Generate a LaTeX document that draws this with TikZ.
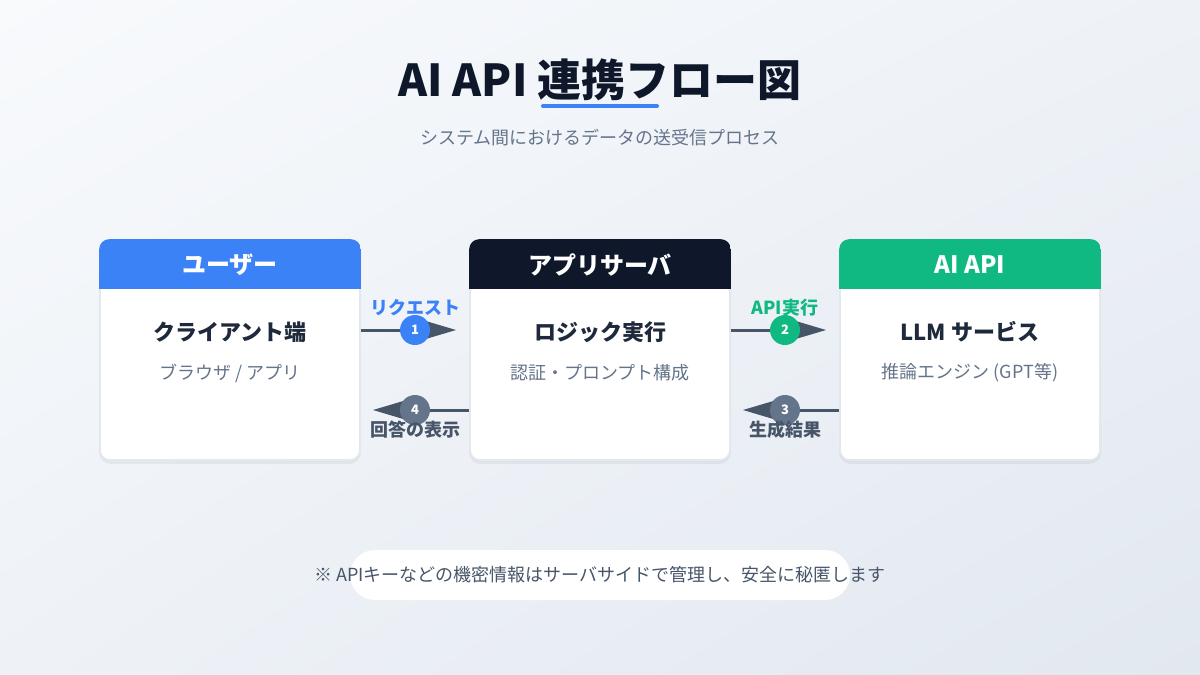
\documentclass[tikz,border=0pt]{standalone}
\usepackage{fontspec}
\setmainfont{Noto Sans CJK JP}
\usepackage{xcolor}
\usetikzlibrary{arrows.meta,positioning,shadings}

\definecolor{bgtop}{HTML}{F8FAFC}
\definecolor{bgmid}{HTML}{EEF2F7}
\definecolor{bgbot}{HTML}{E2E8F0}
\definecolor{userblue}{HTML}{3B82F6}
\definecolor{serverdark}{HTML}{0F172A}
\definecolor{aigreen}{HTML}{10B981}
\definecolor{inkdark}{HTML}{1E293B}
\definecolor{inkgray}{HTML}{64748B}
\definecolor{slate}{HTML}{475569}
\definecolor{cardline}{HTML}{E2E8F0}

\begin{document}
\begin{tikzpicture}[x=0.5pt, y=-0.5pt,
  card/.style={draw=cardline, line width=0.8pt, fill=white, minimum width=130pt,
    minimum height=110pt, inner sep=0pt, rounded corners=5pt},
  headtext/.style={text=white, font=\fontsize{12}{14}\selectfont\bfseries},
  maintext/.style={text=inkdark, font=\fontsize{11}{13}\selectfont\bfseries},
  subtext/.style={text=inkgray, font=\fontsize{9}{11}\selectfont},
  flow/.style={draw=slate, line width=1.5pt, -{Triangle[length=21pt,width=12pt]}},
  badge/.style={circle, fill=#1, text=white, minimum size=15pt, inner sep=0pt,
    font=\fontsize{6.5}{8}\selectfont\bfseries},
  flowlabel/.style={text=#1, font=\fontsize{9}{11}\selectfont\bfseries}]

  % background
  \shade[upper left=bgtop, upper right=bgmid, lower left=bgmid, lower right=bgbot]
    (0,0) rectangle (1200,675);
  \useasboundingbox (0,0) rectangle (1200,675);

  % title
  \node[text=serverdark, font=\fontsize{22}{26}\selectfont\bfseries] (title) at (600,80)
    {AI API 連携フロー図};
  \draw[userblue, line width=2pt, line cap=round] (543,106) -- (657,106);
  \node[text=inkgray, font=\fontsize{9}{11}\selectfont] (subtitle) at (600,138)
    {システム間におけるデータの送受信プロセス};

  \def\drawCard#1#2#3#4#5#6{
    \fill[black, opacity=0.05, rounded corners=6pt] (#2-131,243) rectangle (#2+131,464);
    \node[card] (#1) at (#2,350) {};
    \begin{scope}
      \clip[rounded corners=5pt] (#1.north west) rectangle (#1.south east);
      \fill[#3] (#1.north west) rectangle ([yshift=-25pt]#1.north east);
    \end{scope}
    \node[headtext] (#1-head) at (#2,265) {#4};
    \node[maintext] (#1-main) at (#2,332) {#5};
    \node[subtext] (#1-sub) at (#2,373) {#6};
  }

  \drawCard{user}{230}{userblue}{ユーザー}{クライアント端}{ブラウザ / アプリ}
  \drawCard{server}{600}{serverdark}{アプリサーバ}{ロジック実行}{認証・プロンプト構成}
  \drawCard{ai}{970}{aigreen}{AI API}{LLM サービス}{推論エンジン (GPT等)}

  % flows
  \draw[flow, shorten >=6.5pt] ([yshift=10pt]user.east) -- ([yshift=10pt]server.west)
    node[midway, badge=userblue] (b1) {1}
    node[midway, yshift=11pt, flowlabel=userblue] (l1) {リクエスト};
  \draw[flow, shorten >=6.5pt] ([yshift=10pt]server.east) -- ([yshift=10pt]ai.west)
    node[midway, badge=aigreen] (b2) {2}
    node[midway, yshift=11pt, flowlabel=aigreen] (l2) {API実行};
  \draw[flow, shorten >=6pt] ([yshift=-30pt]ai.west) -- ([yshift=-30pt]server.east)
    node[midway, badge=inkgray] (b3) {3}
    node[midway, yshift=-10pt, flowlabel=slate] (l3) {生成結果};
  \draw[flow, shorten >=6pt] ([yshift=-30pt]server.west) -- ([yshift=-30pt]user.east)
    node[midway, badge=inkgray] (b4) {4}
    node[midway, yshift=-10pt, flowlabel=slate] (l4) {回答の表示};

  % note
  \node[fill=white, rounded corners=12.5pt, minimum width=250pt, minimum height=25pt]
    (note) at (600,575) {};
  \node[text=slate, font=\fontsize{9}{11}\selectfont] (note-text) at (note)
    {※ APIキーなどの機密情報はサーバサイドで管理し、安全に秘匿します};
\end{tikzpicture}
\end{document}
